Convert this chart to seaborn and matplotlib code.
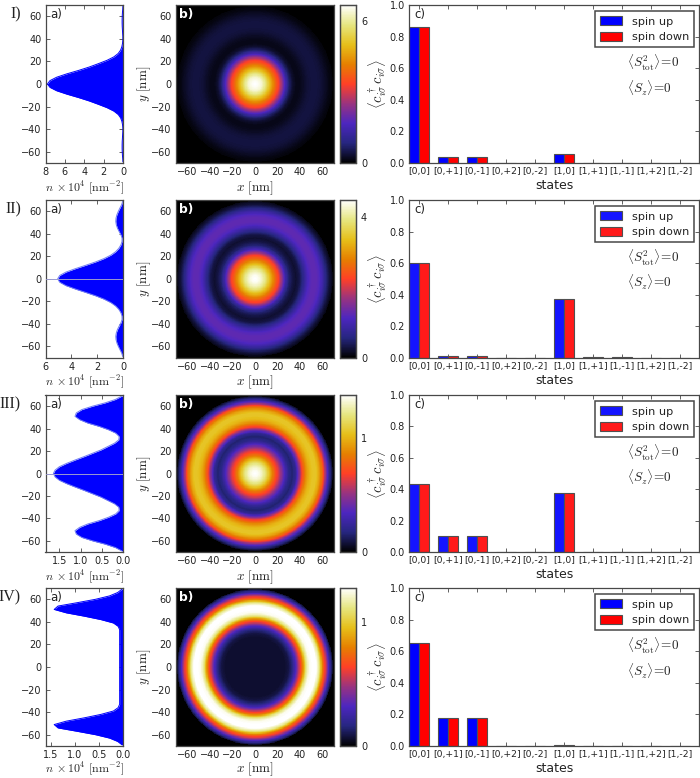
import matplotlib
matplotlib.use("Agg")
import matplotlib.pyplot as plt
import seaborn as sns
import numpy as np
import pandas as pd

sns.set_style("ticks")
plt.rcParams["font.family"] = ["DejaVu Sans"]
plt.rcParams["mathtext.fontset"] = "cm"
plt.rcParams["axes.unicode_minus"] = True

frame = "#484848"

radius = [0, 3, 6, 9, 12, 15, 18, 21, 24, 27, 30, 33, 36, 39, 42, 45, 48, 51, 54, 57, 60, 63, 66, 69]

# panel a) density, 10^4 nm^-2
density_1 = [7.80, 7.54, 6.85, 5.80, 4.60, 3.50, 2.55, 1.65, 0.95, 0.50, 0.25, 0.12, 0.05, 0.02, 0.02, 0.04, 0.06, 0.08, 0.09, 0.09, 0.08, 0.06, 0.03, 0.01]
density_2 = [5.06, 4.90, 4.42, 3.70, 2.90, 2.13, 1.47, 0.95, 0.58, 0.33, 0.17, 0.08, 0.07, 0.16, 0.30, 0.43, 0.52, 0.56, 0.54, 0.47, 0.36, 0.23, 0.10, 0.02]
density_3 = [1.64, 1.60, 1.50, 1.33, 1.13, 0.92, 0.72, 0.52, 0.36, 0.20, 0.10, 0.09, 0.17, 0.34, 0.56, 0.83, 1.02, 1.13, 1.10, 0.97, 0.72, 0.42, 0.18, 0.03]
density_4 = [0.07, 0.07, 0.07, 0.07, 0.07, 0.07, 0.07, 0.07, 0.07, 0.07, 0.07, 0.07, 0.10, 0.20, 0.46, 0.80, 1.18, 1.43, 1.35, 0.95, 0.57, 0.28, 0.11, 0.02]

# panel b) radial values of the colour maps
map_1 = [6.66, 6.56, 6.33, 5.86, 5.19, 4.53, 3.86, 3.26, 2.40, 1.47, 0.73, 0.33, 0.17, 0.17, 0.23, 0.33, 0.40, 0.43, 0.43, 0.40, 0.33, 0.23, 0.13, 0.07]
map_2 = [4.47, 4.40, 4.20, 3.93, 3.49, 3.04, 2.59, 2.19, 1.56, 0.89, 0.49, 0.31, 0.22, 0.31, 0.58, 0.89, 1.16, 1.25, 1.25, 1.16, 0.89, 0.54, 0.27, 0.09]
map_3 = [1.375, 1.35, 1.29, 1.20, 1.06, 0.89, 0.74, 0.61, 0.45, 0.30, 0.19, 0.15, 0.22, 0.45, 0.72, 0.89, 1.00, 1.05, 1.05, 0.94, 0.76, 0.45, 0.21, 0.04]
map_4 = [0.064, 0.064, 0.064, 0.064, 0.064, 0.064, 0.064, 0.064, 0.064, 0.064, 0.09, 0.165, 0.31, 0.54, 0.77, 1.10, 1.25, 1.275, 1.275, 1.12, 0.77, 0.54, 0.25, 0.05]

# panel c) occupations
states = ["[0,0]", "[0,+1]", "[0,-1]", "[0,+2]", "[0,-2]", "[1,0]", "[1,+1]", "[1,-1]", "[1,+2]", "[1,-2]"]
occupation_1 = [0.86, 0.04, 0.04, 0, 0, 0.06, 0, 0, 0, 0]
occupation_2 = [0.60, 0.01, 0.01, 0, 0, 0.37, 0.002, 0.002, 0, 0]
occupation_3 = [0.43, 0.10, 0.10, 0, 0, 0.375, 0, 0, 0, 0]
occupation_4 = [0.65, 0.175, 0.178, 0.001, 0, 0.005, 0, 0, 0, 0]

row_names = ["I)", "II)", "III)", "IV)"]
density_ticks = [[8, 6, 4, 2, 0], [6, 4, 2, 0], [1.5, 1.0, 0.5, 0.0], [1.5, 1.0, 0.5, 0.0]]
density_limits = [8.0, 6.0, 1.825, 1.61]
map_limits = [6.66, 4.47, 1.375, 1.275]
cbar_ticks = [[0, 6], [0, 4], [0, 1], [0, 1]]

densities = [density_1, density_2, density_3, density_4]
maps = [map_1, map_2, map_3, map_4]
occupations = [occupation_1, occupation_2, occupation_3, occupation_4]

tops = [5, 200, 395, 588]
bottoms = [163, 357.7, 552, 746]
W, H = 700, 778


def place(fig, x0, x1, top, bottom):
    return fig.add_axes([x0 / W, 1 - bottom / H, (x1 - x0) / W, (bottom - top) / H])


def dress(ax):
    for s in ax.spines.values():
        s.set_visible(True)
        s.set_color(frame)
        s.set_linewidth(0.9)
    ax.tick_params(direction="in", length=3, width=0.6, color=frame, labelsize=7,
                   top=True, right=True, pad=3, labelcolor="#222222")


fig = plt.figure(figsize=(W / 100, H / 100), dpi=100)

r = np.array(radius, dtype=float)
nm_ticks = [-60, -40, -20, 0, 20, 40, 60]
nm_labels = [str(v).replace("-", "\u2212") for v in nm_ticks]
cells = 280
centres = (np.arange(cells) + 0.5) / cells * 140 - 70
xx, yy = np.meshgrid(centres, centres)
rr = np.hypot(xx, yy)

for i in range(4):
    top, bottom = tops[i], bottoms[i]
    soft = i in (1, 2)
    # last row sits close to the bottom edge of the figure
    pad = 0 if i == 3 else 1.5

    # a) density cut
    ax = place(fig, 45.5, 123, top, bottom)
    n = np.array(densities[i])
    prof = pd.DataFrame({"n": np.r_[n[::-1], n[1:]], "y": np.r_[-r[::-1], r[1:]]})
    edge = "#6f7cf5" if soft else "#0000ff"
    sns.lineplot(data=prof, x="n", y="y", orient="y", sort=False, estimator=None,
                 color=edge, lw=0.7, ax=ax)
    ax.fill_betweenx(prof["y"], 0, prof["n"], color="#0000ff", lw=0)
    if soft:
        ax.axhline(0, color="#9a9ad0", lw=0.7, zorder=3)
    ax.set_xlim(density_limits[i], 0)
    ax.set_ylim(-70, 70)
    ax.set_xticks(density_ticks[i])
    if i >= 2:
        ax.set_xticklabels(["%.1f" % v for v in density_ticks[i]])
    ax.set_yticks(nm_ticks)
    ax.set_xlabel(r"$n\,\times 10^4\ [\mathrm{nm}^{-2}]$", fontsize=8.6, labelpad=pad)
    ax.set_ylabel("")
    dress(ax)
    ax.text(0.06, 0.94, "a)", transform=ax.transAxes, fontsize=8.5, va="center", color="#222222")
    fig.text(21 / W, 1 - (top + 9) / H, row_names[i], family="Liberation Serif",
             fontsize=11.5, ha="right", va="center", color="#222222")

    # b) colour map, built from the radial values
    ax = place(fig, 176, 334, top, bottom)
    cax = place(fig, 339.5, 355.5, top, bottom)
    grid = np.interp(rr, r, maps[i], right=0)
    sns.heatmap(grid, ax=ax, cbar_ax=cax, cmap="CMRmap", vmin=0, vmax=map_limits[i],
                xticklabels=False, yticklabels=False, rasterized=True,
                cbar_kws={"ticks": cbar_ticks[i]})
    ax.set_ylim(0, cells)
    ax.set_xticks([(v + 70) / 140 * cells for v in nm_ticks])
    ax.set_xticklabels(nm_labels)
    ax.set_yticks([(v + 70) / 140 * cells for v in nm_ticks])
    ax.set_yticklabels(nm_labels, rotation=0)
    ax.set_xlabel(r"$x\ [\mathrm{nm}]$", fontsize=9.5, labelpad=pad)
    ax.set_ylabel(r"$y\ [\mathrm{nm}]$", fontsize=9.5, labelpad=-1)
    dress(ax)
    ax.tick_params(color="#222222")
    ax.text(0.02, 0.94, "b)", transform=ax.transAxes, fontsize=8.8, va="center",
            color="white", fontweight="bold")
    for s in cax.spines.values():
        s.set_visible(True)
        s.set_color(frame)
        s.set_linewidth(0.9)
    cax.tick_params(direction="in", length=2, width=0.6, color=frame, labelsize=7, pad=4,
                    labelcolor="#222222")

    # c) occupations
    ax = place(fig, 409, 699, top, bottom)
    occ = pd.DataFrame({
        "state": states * 2,
        "value": occupations[i] * 2,
        "spin": ["spin up"] * 10 + ["spin down"] * 10,
    })
    red = "#ff1a1a" if soft else "#ff0000"
    blue = "#1414ff" if soft else "#0000ff"
    sns.barplot(data=occ, x="state", y="value", hue="spin", palette=[blue, red],
                saturation=1, width=0.7, gap=0, edgecolor="#505050", linewidth=0.8, ax=ax)
    ax.set_xlim(-0.35, 9.65)
    ax.set_ylim(0, 1)
    ax.set_yticks([0, 0.2, 0.4, 0.6, 0.8, 1.0])
    ax.set_xlabel("states", fontsize=9, labelpad=2, color="#222222")
    ax.set_ylabel(r"$\langle c^\dagger_{i\sigma}\, c_{i\sigma} \rangle$", fontsize=10.5, labelpad=0)
    dress(ax)
    ax.tick_params(axis="x", labelsize=6.7, pad=3)
    leg = ax.legend(loc="upper right", bbox_to_anchor=(0.983, 0.962), borderaxespad=0,
                    fontsize=8.1, fancybox=False, framealpha=1, edgecolor=frame, title=None,
                    handlelength=1.9, handleheight=0.9, labelspacing=0.45, handletextpad=0.9,
                    borderpad=0.45, labelcolor="#222222")
    leg.get_frame().set_linewidth(1.1)
    ax.text(0.02, 0.94, "c)", transform=ax.transAxes, fontsize=8.5, va="center", color="#222222")
    ax.text(0.752, 0.633, r"$\langle S^2_{\mathrm{tot}} \rangle\!=\!0$", transform=ax.transAxes,
            fontsize=9.5, va="center", color="#222222")
    ax.text(0.752, 0.475, r"$\langle S_z \rangle\!=\!0$", transform=ax.transAxes,
            fontsize=9.5, va="center", color="#222222")

fig.savefig("out.png", dpi=100)
